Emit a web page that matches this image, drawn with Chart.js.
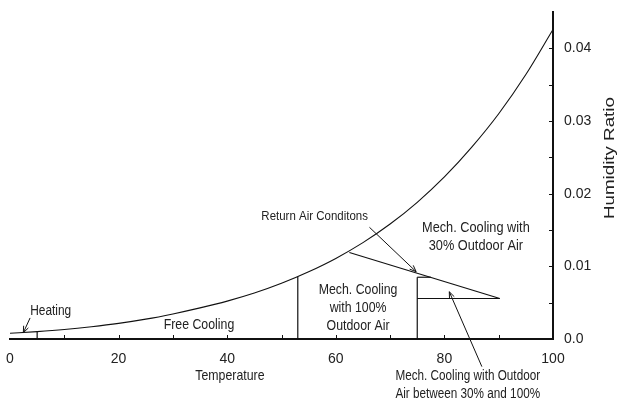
<!DOCTYPE html>
<html>
<head>
<meta charset="utf-8">
<script src="https://cdn.jsdelivr.net/npm/chart.js@4/dist/chart.umd.min.js"></script>
<style>
  html, body { margin: 0; padding: 0; background: #fff; }
  #chart { display: block; }
</style>
</head>
<body>
<canvas id="chart" width="617" height="403" style="width:617px;height:403px"></canvas>
<script>
// Saturation curve: dry-bulb temperature (°F) and saturation humidity ratio (lb/lb)
const satTemps = [0, 5, 10, 15, 20, 25, 30, 35, 40, 45, 50, 55, 60, 65, 70, 75, 80, 85, 90, 95, 100];
const satHumidity = [0.00079, 0.00102, 0.00131, 0.00169, 0.00215, 0.00273, 0.00345, 0.00428,
                     0.00521, 0.00632, 0.00766, 0.00925, 0.01109, 0.01326, 0.01582, 0.01881,
                     0.02230, 0.02637, 0.03100, 0.03640, 0.04260];

// Vertical zone limits (°F) and the humidity ratio each one rises to
const limitTemps = [5, 53, 75];
const limitTops = [0.00102, 0.00857, 0.0085];

// Mixing line from the saturation curve through the return air state
const mixTemps = [62.5, 90.2];
const mixHumidity = [0.0119, 0.00557];

// Short shelf on top of the 75 °F limit and the lower partial-outdoor-air boundary
const shelfTemps = [75, 77.5];
const shelfHumidity = [0.0085, 0.0085];
const lowerTemps = [75, 90.2];
const lowerHumidity = [0.00557, 0.00557];

// Axis ticks
const xTickValues = [0, 20, 40, 60, 80, 100];
const xMinorTicks = [10, 20, 30, 40, 50, 60, 70, 80, 90];
const yTickValues = [0, 0.01, 0.02, 0.03, 0.04];
const yTickLabels = ['0.0', '0.01', '0.02', '0.03', '0.04'];
const yMinorTicks = [0.005, 0.01, 0.015, 0.02, 0.025, 0.03, 0.035, 0.04];

// Region captions: text lines and anchor point (temperature, humidity ratio)
const captions = [
  { lines: ['Heating'], at: [7.5, 0.0039], size: 14 },
  { lines: ['Free Cooling'], at: [34.8, 0.0019], size: 14.5 },
  { lines: ['Mech. Cooling', 'with 100%', 'Outdoor Air'], at: [64.1, 0.0043], size: 14.5 },
  { lines: ['Mech. Cooling with', '30% Outdoor Air'], at: [85.8, 0.01404], size: 15 },
  { lines: ['Return Air Conditons'], at: [56.1, 0.01686], size: 13.5 },
  { lines: ['Mech. Cooling with Outdoor', 'Air between 30% and 100%'], at: [84.3, -0.0064], size: 13.8 },
  { lines: ['Temperature'], at: [40.5, -0.0051], size: 14.5 }
];

// Leader arrows: tail and head (temperature, humidity ratio)
const arrows = [
  { from: [3.7, 0.0029], to: [2.45, 0.00086] },
  { from: [66.2, 0.01537], to: [74.8, 0.00926] },
  { from: [86.9, -0.0038], to: [80.9, 0.0065] }
];

const INK = '#111';
const TEXT = '#222';
const FONT = "'Liberation Sans', Arial, sans-serif";
const SQUEEZE = 0.85;   // narrow lettering for the captions

function pts(xs, ys) { return xs.map((x, i) => ({ x: x, y: ys[i] })); }

function lineSet(data, extra) {
  return Object.assign({
    data: data, borderColor: INK, borderWidth: 1.2, pointRadius: 0,
    fill: false, tension: 0
  }, extra || {});
}

const datasets = [
  lineSet(pts(satTemps, satHumidity), { cubicInterpolationMode: 'monotone', borderWidth: 1.1 }),
  ...limitTemps.map((t, i) => lineSet(pts([t, t], [0, limitTops[i]]))),
  lineSet(pts(mixTemps, mixHumidity)),
  lineSet(pts(shelfTemps, shelfHumidity)),
  lineSet(pts(lowerTemps, lowerHumidity))
];

const overlay = {
  id: 'overlay',
  afterDraw(chart) {
    const ctx = chart.ctx;
    const xs = chart.scales.x, ys = chart.scales.y;
    const area = chart.chartArea;
    ctx.save();

    // inward tick marks
    ctx.strokeStyle = INK;
    ctx.lineWidth = 1;
    xMinorTicks.forEach(v => {
      const px = Math.round(xs.getPixelForValue(v)) + 0.5;
      ctx.beginPath();
      ctx.moveTo(px, area.bottom);
      ctx.lineTo(px, area.bottom - 4);
      ctx.stroke();
    });
    yMinorTicks.forEach(v => {
      const py = Math.round(ys.getPixelForValue(v)) + 0.5;
      ctx.beginPath();
      ctx.moveTo(area.right, py);
      ctx.lineTo(area.right - 4, py);
      ctx.stroke();
    });

    // leader arrows
    arrows.forEach(a => {
      const x1 = xs.getPixelForValue(a.from[0]), y1 = ys.getPixelForValue(a.from[1]);
      const x2 = xs.getPixelForValue(a.to[0]), y2 = ys.getPixelForValue(a.to[1]);
      const ang = Math.atan2(y2 - y1, x2 - x1);
      const len = 7, spread = 0.38;
      ctx.beginPath();
      ctx.moveTo(x1, y1);
      ctx.lineTo(x2, y2);
      ctx.moveTo(x2 - len * Math.cos(ang - spread), y2 - len * Math.sin(ang - spread));
      ctx.lineTo(x2, y2);
      ctx.lineTo(x2 - len * Math.cos(ang + spread), y2 - len * Math.sin(ang + spread));
      ctx.stroke();
    });

    // captions
    ctx.fillStyle = TEXT;
    ctx.textAlign = 'center';
    ctx.textBaseline = 'middle';
    const lh = 17.8;
    captions.forEach(c => {
      ctx.font = c.size + 'px ' + FONT;
      const cx = xs.getPixelForValue(c.at[0]);
      const cy = ys.getPixelForValue(c.at[1]);
      const top = cy - (c.lines.length - 1) * lh / 2;
      c.lines.forEach((s, i) => {
        ctx.save();
        ctx.translate(cx, top + i * lh);
        ctx.scale(SQUEEZE, 1);
        ctx.fillText(s, 0, 0);
        ctx.restore();
      });
    });

    // right axis title, reading upward
    const tx = xs.getPixelForValue(110.5), ty = ys.getPixelForValue(0.0249);
    ctx.font = '15px ' + FONT;
    ctx.translate(tx, ty);
    ctx.rotate(-Math.PI / 2);
    ctx.scale(1.25, 1);
    ctx.fillText('Humidity Ratio', 0, 0);
    ctx.restore();
  }
};

new Chart(document.getElementById('chart'), {
  type: 'line',
  data: { datasets: datasets },
  plugins: [overlay],
  options: {
    responsive: false,
    animation: false,
    events: [],
    layout: { padding: { left: 10, top: 12, right: 0, bottom: 0 } },
    plugins: { legend: { display: false }, tooltip: { enabled: false } },
    scales: {
      x: {
        type: 'linear', min: 0, max: 100, position: 'bottom',
        grid: { display: false, drawTicks: false },
        border: { display: true, color: INK, width: 2 },
        afterBuildTicks: s => { s.ticks = xTickValues.map(v => ({ value: v })); },
        ticks: { padding: 12, color: TEXT, font: { family: FONT, size: 14 }, maxRotation: 0 },
        afterFit: s => { s.height = 64; s.paddingLeft = 0; s.paddingRight = 0; }
      },
      y: {
        type: 'linear', min: 0, max: 0.045, position: 'right',
        grid: { display: false, drawTicks: false },
        border: { display: true, color: INK, width: 2 },
        afterBuildTicks: s => { s.ticks = yTickValues.map(v => ({ value: v })); },
        ticks: {
          padding: 11, color: TEXT, font: { family: FONT, size: 14 },
          callback: (v) => yTickLabels[yTickValues.indexOf(v)]
        },
        afterFit: s => { s.width = 64; s.paddingTop = 0; s.paddingBottom = 0; }
      }
    }
  }
});
</script>
</body>
</html>
